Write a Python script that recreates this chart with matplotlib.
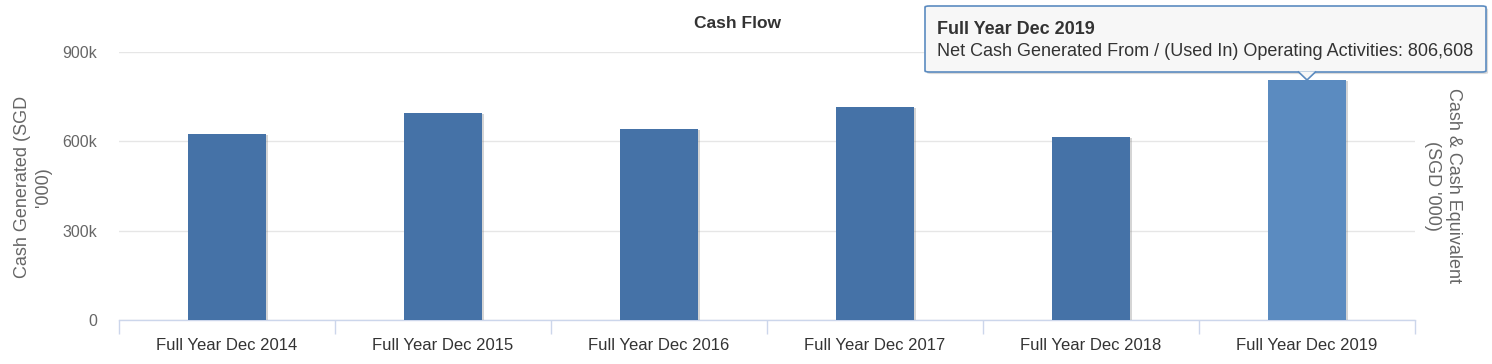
import matplotlib
matplotlib.use("Agg")
import matplotlib.pyplot as plt
import matplotlib.patheffects as pe
from matplotlib.patches import FancyBboxPatch, Polygon
import numpy as np

plt.rcParams['font.family'] = ['Liberation Sans', 'DejaVu Sans']

periods = ["Full Year Dec 2014", "Full Year Dec 2015", "Full Year Dec 2016",
           "Full Year Dec 2017", "Full Year Dec 2018", "Full Year Dec 2019"]
operating_cash = [626000, 695000, 643000, 716000, 616000, 806608]
y_ticks = [0, 300000, 600000, 900000]
y_tick_labels = ["0", "300k", "600k", "900k"]
highlight = 5

W, H = 1492, 364
fig = plt.figure(figsize=(W / 100, H / 100), dpi=100)
ax = fig.add_axes([119 / W, 1 - 320 / H, (1415 - 119) / W, (320 - 52) / H])

x = np.arange(len(periods))
colors = ["#4572a7"] * len(periods)
colors[highlight] = "#5b8bc0"
shadow = [pe.SimplePatchShadow(offset=(1.5, -1.0), shadow_rgbFace="#888888", alpha=0.35),
          pe.Normal()]
ax.bar(x, operating_cash, width=0.36, color=colors, zorder=3, path_effects=shadow)

ax.set_xlim(-0.5, len(periods) - 0.5)
ax.set_ylim(0, 900000)
ax.set_yticks(y_ticks)
ax.set_yticklabels(y_tick_labels)
ax.grid(axis="y", color="#e6e6e6", linewidth=1, zorder=0)
ax.tick_params(axis="y", length=0, pad=16, labelsize=11.5, labelcolor="#666666")

# category labels on minor ticks, boundary ticks on major
ax.set_xticks(np.arange(-0.5, len(periods)), minor=False)
ax.set_xticklabels([""] * (len(periods) + 1))
ax.set_xticks(x, minor=True)
ax.set_xticklabels(periods, minor=True)
ax.tick_params(axis="x", which="major", length=10, color="#ccd6eb", width=1)
ax.tick_params(axis="x", which="minor", length=0, pad=13, labelsize=12, labelcolor="#333333")

for side in ["top", "right", "left"]:
    ax.spines[side].set_visible(False)
ax.spines["bottom"].set_color("#ccd6eb")
ax.spines["bottom"].set_linewidth(1)

fig.text(33 / W, 1 - 187 / H, "Cash Generated (SGD\n'000)", ha="center", va="center",
         rotation=90, fontsize=13, color="#666666", linespacing=1.25)
fig.text(738 / W, 1 - 24 / H, "Cash Flow", ha="center", va="center",
         fontsize=12.5, fontweight="bold", color="#333333")
fig.text(1443 / W, 1 - 186 / H, "Cash & Cash Equivalent\n(SGD '000)", ha="center",
         va="center", rotation=270, fontsize=13, color="#666666", linespacing=1.25)

# tooltip
bx0, by0, bx1, by1 = 925 / W, 1 - 72 / H, 1486 / W, 1 - 6 / H
tip = FancyBboxPatch((bx0, by0), bx1 - bx0, by1 - by0, boxstyle="round,pad=0,rounding_size=0.003",
                     transform=fig.transFigure, facecolor="#f7f7f7", edgecolor="#5b8bc0",
                     linewidth=1.2, zorder=10,
                     path_effects=[pe.SimplePatchShadow(offset=(1.5, -1.5), alpha=0.2), pe.Normal()])
fig.patches.append(tip)
tip_x = 1307 / W
arrow = Polygon([(tip_x - 9 / W, by0 + 0.6 / H), (tip_x, 1 - 80 / H), (tip_x + 9 / W, by0 + 0.6 / H)],
                closed=False, transform=fig.transFigure, facecolor="#f7f7f7", edgecolor="#5b8bc0",
                linewidth=1.2, zorder=11)
fig.patches.append(arrow)
fig.text(937 / W, 1 - 30 / H, periods[highlight], ha="left", va="center",
         fontsize=13, fontweight="bold", color="#333333", zorder=12)
fig.text(937 / W, 1 - 52 / H,
         "Net Cash Generated From / (Used In) Operating Activities: {:,}".format(operating_cash[highlight]),
         ha="left", va="center", fontsize=13, color="#333333", zorder=12)

fig.savefig("out.png", dpi=100)
